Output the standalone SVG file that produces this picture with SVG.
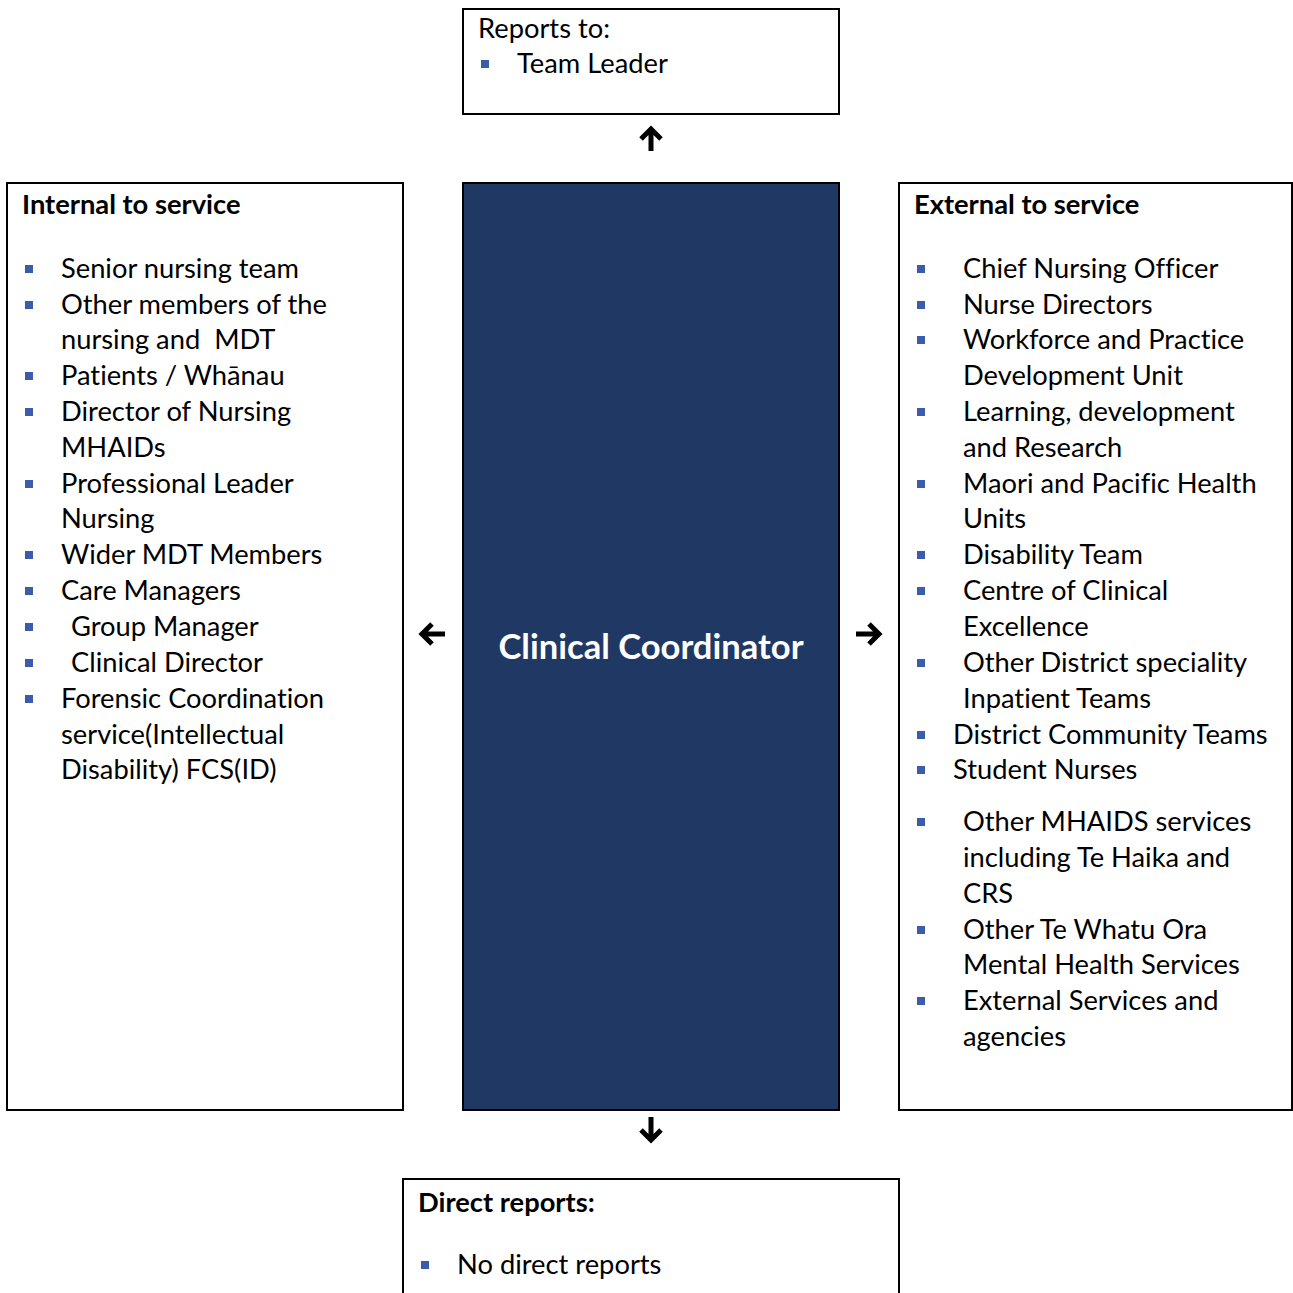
<svg xmlns="http://www.w3.org/2000/svg" width="1293" height="1293" viewBox="0 0 1293 1293">
  <defs>
    <style>
      .box { fill: #ffffff; stroke: #000000; stroke-width: 2; }
      .core { fill: #203864; stroke: #000000; stroke-width: 2; }
      text { font-family: Lato, "Liberation Sans", sans-serif; font-size: 27.3px; fill: #000000; font-variant-ligatures: none; font-feature-settings: "liga" 0, "dlig" 0; }
      .hd { font-weight: bold; }
      .title { font-weight: bold; font-size: 34.6px; fill: #ffffff; text-anchor: middle; }
      .dot { fill: #3b5ca8; }
      .arrow { fill: none; stroke: #000000; stroke-width: 5; stroke-linecap: butt; stroke-linejoin: miter; }
    </style>
    <rect id="sq" class="dot" width="8" height="8"/>
  </defs>

  <!-- Reports to -->
  <g id="reports-to">
    <rect class="box" x="463" y="9" width="376" height="105"/>
    <text x="478" y="38">Reports to:</text>
    <use href="#sq" x="481" y="60"/>
    <text x="517" y="73">Team Leader</text>
  </g>

  <!-- Internal to service -->
  <g id="internal">
    <rect class="box" x="7" y="183" width="396" height="927"/>
    <text class="hd" x="22" y="214">Internal to service</text>
    <use href="#sq" x="25" y="265"/>
    <text x="61" y="278">Senior nursing team</text>
    <use href="#sq" x="25" y="301"/>
    <text x="61" y="314">Other members of the</text>
    <text x="61" y="349" xml:space="preserve">nursing and  MDT</text>
    <use href="#sq" x="25" y="372"/>
    <text x="61" y="385">Patients / Whānau</text>
    <use href="#sq" x="25" y="408"/>
    <text x="61" y="421">Director of Nursing</text>
    <text x="61" y="457">MHAIDs</text>
    <use href="#sq" x="25" y="480"/>
    <text x="61" y="493">Professional Leader</text>
    <text x="61" y="528">Nursing</text>
    <use href="#sq" x="25" y="551"/>
    <text x="61" y="564">Wider MDT Members</text>
    <use href="#sq" x="25" y="587"/>
    <text x="61" y="600">Care Managers</text>
    <use href="#sq" x="25" y="623"/>
    <text x="71" y="636">Group Manager</text>
    <use href="#sq" x="25" y="659"/>
    <text x="71" y="672">Clinical Director</text>
    <use href="#sq" x="25" y="695"/>
    <text x="61" y="708">Forensic Coordination</text>
    <text x="61" y="744">service(Intellectual</text>
    <text x="61" y="779">Disability) FCS(ID)</text>
  </g>

  <!-- Role -->
  <g id="role">
    <rect class="core" x="463" y="183" width="376" height="927"/>
    <text class="title" x="651" y="659">Clinical Coordinator</text>
  </g>

  <!-- External to service -->
  <g id="external">
    <rect class="box" x="899" y="183" width="393" height="927"/>
    <text class="hd" x="914" y="214">External to service</text>
    <use href="#sq" x="917" y="265"/>
    <text x="963" y="278">Chief Nursing Officer</text>
    <use href="#sq" x="917" y="301"/>
    <text x="963" y="314">Nurse Directors</text>
    <use href="#sq" x="917" y="336"/>
    <text x="963" y="349">Workforce and Practice</text>
    <text x="963" y="385">Development Unit</text>
    <use href="#sq" x="917" y="408"/>
    <text x="963" y="421">Learning, development</text>
    <text x="963" y="457">and Research</text>
    <use href="#sq" x="917" y="480"/>
    <text x="963" y="493">Maori and Pacific Health</text>
    <text x="963" y="528">Units</text>
    <use href="#sq" x="917" y="551"/>
    <text x="963" y="564">Disability Team</text>
    <use href="#sq" x="917" y="587"/>
    <text x="963" y="600">Centre of Clinical</text>
    <text x="963" y="636">Excellence</text>
    <use href="#sq" x="917" y="659"/>
    <text x="963" y="672">Other District speciality</text>
    <text x="963" y="708">Inpatient Teams</text>
    <use href="#sq" x="917" y="731"/>
    <text x="953" y="744">District Community Teams</text>
    <use href="#sq" x="917" y="766"/>
    <text x="953" y="779">Student Nurses</text>
    <use href="#sq" x="917" y="818"/>
    <text x="963" y="831">Other MHAIDS services</text>
    <text x="963" y="867">including Te Haika and</text>
    <text x="963" y="903">CRS</text>
    <use href="#sq" x="917" y="926"/>
    <text x="963" y="939">Other Te Whatu Ora</text>
    <text x="963" y="974">Mental Health Services</text>
    <use href="#sq" x="917" y="997"/>
    <text x="963" y="1010">External Services and</text>
    <text x="963" y="1046">agencies</text>
  </g>

  <!-- Direct reports -->
  <g id="direct-reports">
    <rect class="box" x="403" y="1179" width="496" height="130"/>
    <text class="hd" x="418" y="1212">Direct reports:</text>
    <use href="#sq" x="421" y="1261"/>
    <text x="457" y="1274">No direct reports</text>
  </g>

  <!-- Connectors -->
  <g id="connectors">
    <path class="arrow" d="M651 151 V130 M641 139 L651 129 L661 139"/>
    <path class="arrow" d="M651 1117 V1139 M641 1130 L651 1140 L661 1130"/>
    <path class="arrow" d="M445 634 H423 M432 624 L422 634 L432 644"/>
    <path class="arrow" d="M856 634 H878 M869 624 L879 634 L869 644"/>
  </g>
</svg>
